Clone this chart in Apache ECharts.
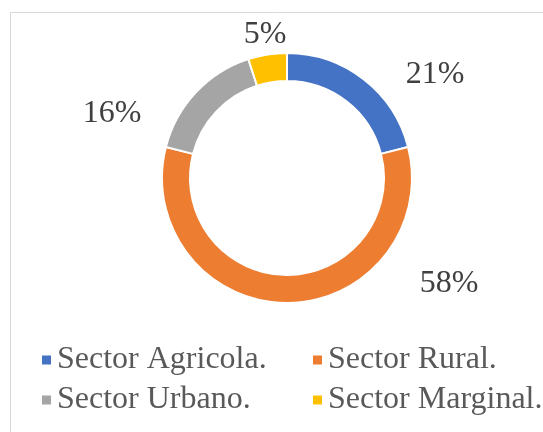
<!DOCTYPE html>
<html><head><meta charset="utf-8">
<script src="https://cdn.jsdelivr.net/npm/echarts@6/dist/echarts.min.js"></script>
<style>html,body{margin:0;padding:0;background:#fff}#c{width:543px;height:432px}</style>
</head><body><div id="c"></div>
<script>
const categories = ['Sector Agricola.', 'Sector Rural.', 'Sector Urbano.', 'Sector Marginal.'];
const values = [21, 58, 16, 5];
const colors = ['#4472C4', '#ED7D31', '#A5A5A5', '#FFC000'];
const labelPos = [[435, 75], [449, 284], [112, 114], [265, 35]];

const font = 'Liberation Serif';
const chart = echarts.init(document.getElementById('c'));
const legendCommon = {
  orient: 'vertical', top: 339, itemWidth: 11, itemHeight: 11, itemGap: 8, icon: 'rect',
  textStyle: { fontFamily: font, fontSize: 32, color: '#595959', padding: [0, 0, 0, 0] },
  selectedMode: false
};
chart.setOption({
  animation: false,
  color: colors,
  graphic: [{ type: 'rect', shape: { x: 10.5, y: 12.5, width: 700, height: 600 },
    style: { fill: 'none', stroke: '#d9d9d9', lineWidth: 1 }, silent: true }],
  legend: [
    Object.assign({}, legendCommon, { left: 35, data: [categories[0], categories[2]] }),
    Object.assign({}, legendCommon, { left: 306, data: [categories[1], categories[3]] })
  ],
  series: [{
    type: 'pie',
    center: [287, 178],
    radius: [97, 125],
    startAngle: 90,
    clockwise: true,
    avoidLabelOverlap: false,
    itemStyle: { borderColor: '#fff', borderWidth: 2 },
    label: { show: true, position: 'outside', formatter: '{c}%', fontFamily: font, fontSize: 32, color: '#404040' },
    labelLine: { show: false },
    labelLayout: function (p) {
      const pos = labelPos[p.dataIndex];
      return { x: pos[0], y: pos[1], align: 'center', verticalAlign: 'middle' };
    },
    data: categories.map((n, i) => ({ name: n, value: values[i] }))
  }]
});
</script></body></html>
